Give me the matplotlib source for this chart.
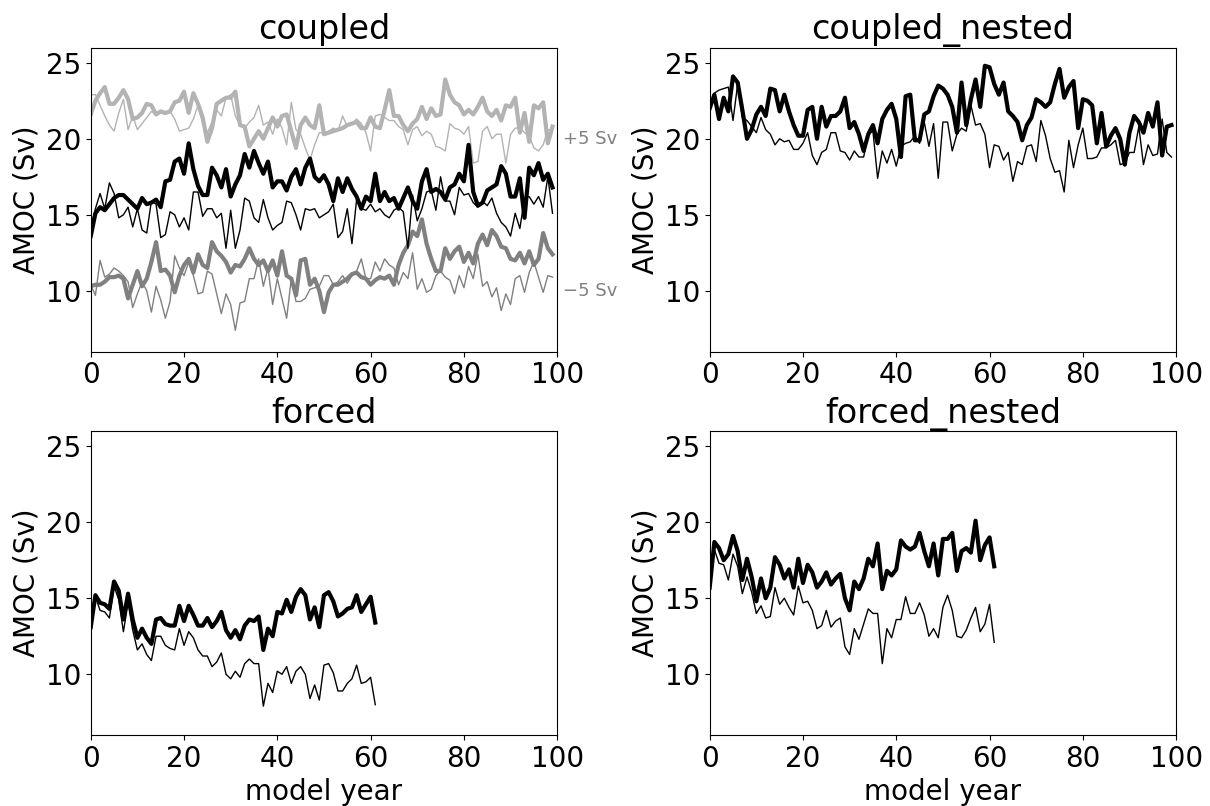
import numpy as np
import matplotlib
matplotlib.use("Agg")
import matplotlib.pyplot as plt

# AMOC (Sv) per model year
coupled_thick = [13.6, 15.1, 15.5, 15.3, 15.7, 16.1, 16.3, 16.3, 16.0, 15.7, 15.4, 16.1, 15.7, 15.8, 16.0, 15.5, 17.2, 17.3, 18.5, 18.7,
                 17.7, 19.7, 18.0, 16.9, 16.3, 16.3, 18.1, 17.6, 16.8, 18.0, 16.2, 17.0, 17.6, 19.0, 18.1,
                 19.2, 18.4, 17.7, 18.5, 16.8, 17.2, 17.2, 16.6, 17.5, 18.0, 17.0, 18.1, 18.7, 17.5, 17.2, 17.6, 17.0, 15.9, 17.4, 16.5,
                 17.4, 16.7, 16.2, 15.4, 16.2, 15.9, 17.7, 15.9, 16.5, 15.9, 16.1, 15.4, 16.1, 16.8,
                 15.9, 15.4, 17.2, 18.0, 16.5, 16.7, 16.5, 16.0, 16.8, 17.0, 17.7, 17.2, 19.6, 16.5, 15.6, 15.8, 16.6, 16.8, 17.0, 18.2,
                 17.7, 16.2, 16.2, 17.4, 14.8, 18.1, 17.6, 18.4, 17.3, 17.7, 16.8]
coupled_thin = [14.2, 15.4, 16.4, 15.4, 17.1, 16.4, 14.8, 15.0, 15.5, 14.2, 15.4, 14.0, 13.8, 15.9, 15.7, 13.5, 13.7, 15.2, 15.0, 14.2,
                14.8, 14.0, 16.5, 16.5, 14.9, 15.4, 15.4, 14.8, 15.1, 12.8, 15.3, 12.8, 14.0, 16.1, 15.9,
                14.8, 14.5, 16.0, 14.8, 14.0, 14.3, 14.5, 15.9, 15.8, 15.0, 14.0, 15.4, 15.3, 15.4, 14.8, 15.0, 15.2, 15.7, 13.5, 13.9,
                15.4, 13.1, 16.0, 15.4, 15.3, 15.7, 15.2, 15.4, 15.0, 14.8, 15.3, 15.5, 15.2, 12.8,
                16.3, 14.6, 15.4, 16.5, 16.6, 15.3, 17.5, 15.9, 15.9, 15.0, 16.8, 16.3, 16.4, 15.8, 15.5, 15.9, 15.6, 16.1, 15.1, 14.5,
                14.2, 13.6, 15.1, 14.1, 16.1, 16.2, 15.7, 16.2, 15.5, 17.5, 15.1]

# other two coupled runs, drawn shifted by +5 Sv / -5 Sv
plus5_thick = [21.6, 22.5, 23.0, 23.4, 22.3, 22.3, 22.7, 23.2, 22.6, 21.3, 21.4, 21.7, 22.3, 22.2, 21.6, 21.8, 21.7, 21.8, 22.4, 22.5,
               23.1, 21.7, 23.0, 22.3, 21.4, 19.8, 20.7, 22.3, 22.5, 22.7, 22.7, 23.1, 20.9, 20.8, 19.5,
               20.0, 20.5, 20.0, 20.7, 21.4, 20.8, 21.5, 21.6, 20.5, 19.4, 20.9, 21.4, 20.9, 20.7, 22.2, 20.3, 20.4, 20.5, 20.6, 20.7,
               20.9, 21.0, 21.1, 20.7, 20.7, 21.4, 20.8, 20.7, 21.9, 23.2, 21.5, 21.5, 20.9, 20.5,
               21.0, 21.3, 22.1, 21.3, 22.0, 21.5, 21.6, 23.9, 22.9, 22.4, 22.2, 21.6, 21.9, 21.6, 22.1, 22.7, 21.8, 21.5, 21.9, 21.2,
               22.2, 22.1, 22.7, 20.4, 21.7, 19.8, 22.2, 22.0, 22.4, 19.7, 20.8]
plus5_thin = [22.9, 22.9, 22.2, 21.5, 20.9, 20.5, 21.7, 22.6, 20.6, 21.5, 20.6, 21.0, 21.4, 21.8, 21.6, 21.7, 21.6, 21.8, 21.3, 20.5,
              20.6, 20.7, 21.3, 22.2, 21.0, 20.4, 21.1, 21.9, 21.5, 22.7, 22.9, 21.5, 20.9, 20.7, 21.1,
              21.4, 22.2, 20.9, 21.1, 20.3, 21.3, 20.7, 19.6, 22.4, 20.6, 20.3, 19.4, 18.6, 19.6, 20.4, 20.4, 20.5, 20.7, 20.5, 21.5,
              20.8, 21.0, 21.3, 21.0, 20.4, 19.2, 21.5, 21.6, 21.4, 21.2, 21.2, 20.8, 20.6, 19.6,
              20.6, 20.8, 20.2, 20.5, 20.3, 19.5, 19.4, 19.2, 21.0, 20.7, 20.6, 20.3, 20.8, 18.4, 18.5, 20.5, 20.8, 20.0, 20.3, 20.3,
              18.4, 20.3, 20.7, 20.7, 20.4, 20.2, 19.4, 19.2, 19.6, 20.6, 20.6]
minus5_thick = [10.3, 10.4, 10.4, 10.6, 10.9, 10.9, 11.0, 10.8, 9.5, 10.4, 11.3, 10.3, 10.8, 11.9, 13.2, 11.3, 11.4, 11.0, 9.9, 11.0,
                11.7, 12.1, 11.2, 12.4, 11.7, 11.5, 13.2, 12.6, 12.3, 11.9, 11.2, 11.7, 11.6, 12.1, 12.8,
                12.1, 11.7, 12.0, 11.3, 12.0, 11.0, 12.6, 11.0, 10.8, 9.7, 12.0, 12.1, 10.4, 10.8, 10.0, 8.6, 9.9, 10.4, 10.4, 10.6,
                10.8, 11.1, 11.2, 10.9, 10.8, 10.4, 10.7, 10.9, 10.8, 11.0, 10.4, 11.7, 12.5, 13.0,
                13.9, 13.6, 14.7, 13.1, 12.1, 11.3, 11.3, 12.8, 12.1, 12.6, 12.9, 11.9, 12.5, 11.8, 13.1, 13.7, 13.0, 14.0, 13.6, 12.9,
                12.8, 12.1, 12.0, 12.5, 11.8, 12.6, 11.7, 12.1, 13.8, 12.8, 12.4]
minus5_thin = [10.4, 9.7, 12.0, 10.9, 11.1, 11.5, 11.3, 11.0, 10.6, 8.9, 9.8, 10.6, 10.0, 8.6, 10.3, 9.4, 8.2, 9.3, 12.3, 11.5,
               11.0, 11.9, 11.0, 9.8, 9.9, 11.3, 11.1, 9.8, 8.5, 9.8, 9.1, 7.4, 9.2, 9.3, 10.8,
               10.8, 12.1, 10.3, 11.5, 9.1, 10.8, 9.5, 8.2, 10.8, 9.3, 9.3, 9.5, 10.1, 10.2, 10.3, 11.0, 11.0, 10.4, 10.6, 11.0,
               10.5, 11.0, 11.3, 12.1, 10.8, 10.8, 11.9, 11.3, 12.1, 11.7, 11.5, 10.4, 11.2, 10.8,
               12.5, 10.1, 10.8, 9.9, 10.1, 11.0, 11.3, 10.9, 10.7, 9.8, 11.0, 10.2, 11.6, 10.8, 12.4, 10.3, 10.6, 9.6, 10.2, 8.7,
               9.8, 9.1, 10.8, 11.0, 9.9, 11.2, 11.9, 10.9, 9.9, 11.0, 10.9]

coupled_nested_thick = [22.0, 22.9, 21.3, 22.7, 21.8, 24.1, 23.7, 21.9, 20.0, 20.6, 21.6, 22.1, 21.5, 23.3, 23.2, 21.8, 22.9, 21.8, 20.9, 20.2,
                        20.2, 21.9, 22.1, 20.0, 22.1, 20.8, 21.5, 21.5, 21.8, 22.7, 20.7, 21.1, 20.3, 19.2, 20.3, 20.9, 19.7, 21.3, 21.9, 22.3,
                        21.3, 18.8, 22.8, 22.9, 19.9, 19.9, 21.6, 21.8, 22.8, 23.5,
                        23.3, 22.9, 22.1, 20.4, 23.7, 20.9, 22.6, 23.9, 22.1, 24.8, 24.7, 23.6, 22.9, 23.7, 21.8, 21.5, 21.1, 19.9, 20.9, 21.4,
                        22.6, 22.4, 22.1, 22.4, 23.6, 24.6, 22.7, 23.4, 23.8, 20.7, 22.6, 22.5, 22.2, 19.7, 21.7, 19.5, 20.2, 20.7, 20.0, 18.3,
                        20.4, 21.5, 21.1, 20.4, 21.7, 20.8, 22.4, 18.9, 20.8, 20.9]
coupled_nested_thin = [22.0, 23.0, 23.2, 23.3, 23.4, 21.2, 23.6, 21.4, 21.2, 20.8, 20.4, 21.4, 20.6, 20.3, 19.6, 20.0, 19.8, 19.9, 19.3, 19.3,
                       19.7, 20.4, 18.9, 18.3, 19.1, 19.3, 20.4, 20.4, 19.2, 19.1, 18.6, 19.2, 18.8, 18.8, 20.3, 20.5, 17.4, 19.2, 18.4, 19.3,
                       18.2, 19.5, 19.7, 19.8, 20.2, 19.7, 21.1, 19.5, 21.0, 17.4,
                       21.1, 21.1, 19.2, 20.3, 20.7, 20.5, 22.2, 20.9, 21.0, 20.3, 18.1, 19.6, 19.5, 18.6, 19.1, 17.2, 18.5, 18.3, 19.5, 19.6,
                       18.5, 21.2, 20.2, 18.7, 17.8, 17.9, 16.5, 19.9, 18.1, 19.6, 20.7, 18.7, 18.7, 18.8, 19.4, 19.4, 19.6, 19.9, 18.3, 18.4,
                       19.1, 19.1, 20.8, 18.3, 19.6, 18.9, 19.0, 21.3, 19.1, 18.8]

forced_thick = [13.1, 15.2, 14.7, 14.6, 14.3, 16.1, 15.5, 13.6, 15.3, 13.6, 12.4, 13.0, 12.4, 12.0, 13.6, 13.7, 13.3, 13.2, 13.2, 14.5,
                13.5, 14.5, 13.9, 13.2, 13.2, 13.7, 13.1, 13.5, 14.1, 12.9, 12.4, 12.9, 12.3, 13.2, 13.6, 13.5, 13.8, 11.6, 13.0, 12.5,
                14.1, 14.0, 14.9, 14.1, 15.1, 15.6, 15.2, 13.6, 14.4, 13.1, 15.2, 15.4, 14.8, 13.8, 14.0, 14.3, 14.4, 15.2, 14.1, 14.6,
                15.1, 13.4]
forced_thin = [13.1, 15.1, 14.2, 14.1, 13.7, 15.8, 14.9, 12.8, 14.7, 12.9, 11.6, 12.0, 11.3, 10.9, 12.5, 12.5, 11.9, 11.7, 11.6, 13.0,
               11.9, 12.8, 12.4, 11.6, 11.2, 11.2, 10.5, 10.8, 11.4, 10.0, 9.7, 10.2, 9.8, 10.7, 11.0, 10.7, 10.7, 7.9, 9.4, 8.8,
               10.2, 10.0, 10.5, 9.4, 10.2, 10.5, 10.0, 8.4, 9.3, 8.3, 10.6, 10.7, 10.1, 8.9, 8.9, 9.4, 9.7, 10.6, 9.4, 9.5,
               9.8, 8.0]

forced_nested_thick = [15.7, 18.7, 18.3, 17.5, 17.9, 19.1, 18.1, 16.2, 17.6, 16.4, 14.8, 16.3, 15.0, 15.7, 17.7, 17.2, 16.3, 16.9, 15.7, 17.6,
                       16.0, 17.2, 16.7, 15.7, 16.1, 16.7, 15.9, 16.3, 16.6, 15.0, 14.2, 16.1, 15.6, 16.3, 17.6, 17.1, 18.6, 15.6, 16.8, 16.5,
                       16.9, 18.8, 18.4, 18.2, 18.4, 19.3, 18.1, 17.1, 18.6, 16.5, 18.9, 18.9, 19.3, 16.8, 18.1, 18.3, 18.0, 20.1, 17.5, 18.5,
                       19.0, 17.1]
forced_nested_thin = [15.7, 18.2, 17.3, 17.2, 16.2, 17.9, 17.1, 15.3, 16.4, 15.4, 14.0, 14.5, 13.7, 13.8, 15.7, 14.6, 15.0, 14.4, 13.9, 15.8,
                      14.7, 14.8, 14.2, 13.0, 13.2, 14.2, 13.1, 13.5, 13.7, 11.8, 11.3, 13.0, 12.3, 13.3, 14.3, 14.0, 14.0, 10.7, 13.0, 12.4,
                      13.6, 13.6, 15.1, 14.0, 14.0, 14.7, 13.9, 12.5, 13.0, 12.4, 14.4, 15.2, 14.2, 12.5, 12.4, 12.9, 13.7, 14.4, 12.8, 13.3,
                      14.6, 12.1]

titles = ["coupled", "coupled_nested", "forced", "forced_nested"]


def draw(ax, thin, thick, color="k"):
    ax.plot(np.arange(len(thin)), thin, color=color, lw=1)
    ax.plot(np.arange(len(thick)), thick, color=color, lw=3)


fig, axs = plt.subplots(2, 2, figsize=(12.1, 8.06), dpi=100)
fig.subplots_adjust(left=0.075, right=0.972, bottom=0.088, top=0.941, wspace=0.327, hspace=0.261)
axs = axs.ravel()

draw(axs[0], plus5_thin, plus5_thick, color="0.7")
draw(axs[0], minus5_thin, minus5_thick, color="0.5")
draw(axs[0], coupled_thin, coupled_thick)
axs[0].text(101.2, 20, "+5 Sv", color="grey", fontsize=13, va="center")
axs[0].text(101.2, 10, "\u22125 Sv", color="grey", fontsize=13, va="center")

draw(axs[1], coupled_nested_thin, coupled_nested_thick)
draw(axs[2], forced_thin, forced_thick)
draw(axs[3], forced_nested_thin, forced_nested_thick)

for i, ax in enumerate(axs):
    ax.set_title(titles[i], fontsize=24)
    ax.set_xlim(0, 100)
    ax.set_ylim(6, 26)
    ax.set_xticks([0, 20, 40, 60, 80, 100])
    ax.set_yticks([10, 15, 20, 25])
    ax.tick_params(labelsize=20)
    ax.set_ylabel("AMOC (Sv)", fontsize=20)
    if i >= 2:
        ax.set_xlabel("model year", fontsize=20)

plt.savefig("out.png")
plt.close()
